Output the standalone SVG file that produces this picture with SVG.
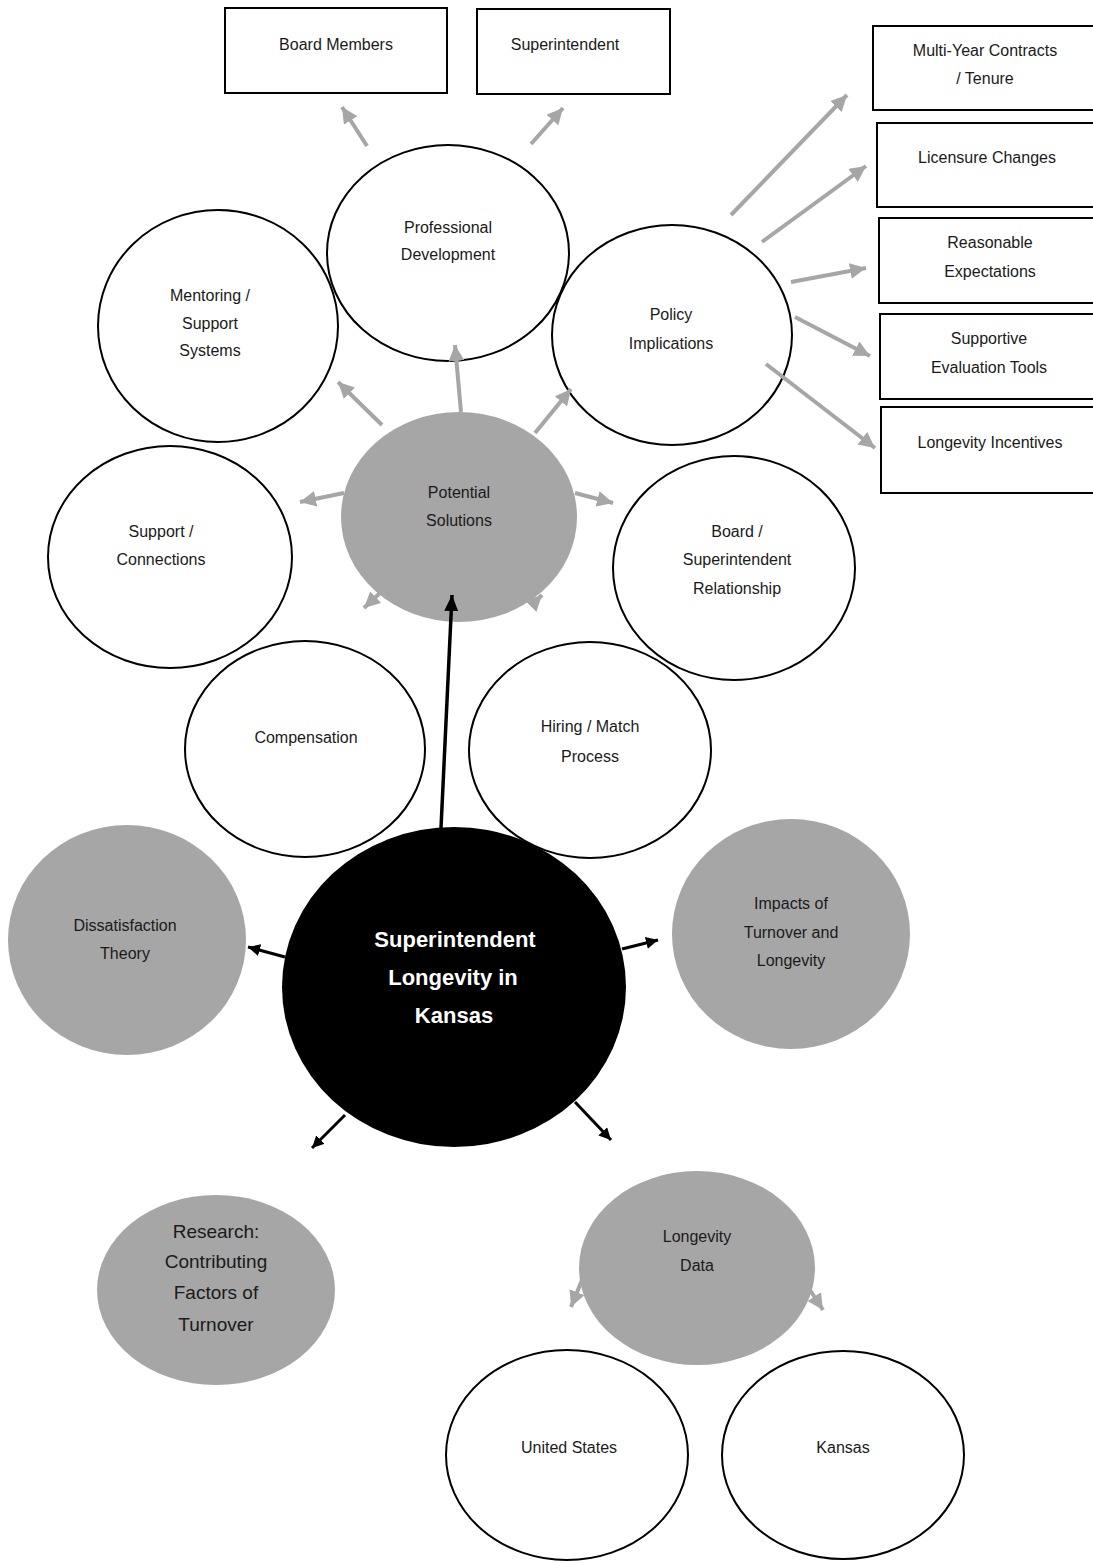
<svg xmlns="http://www.w3.org/2000/svg" width="1093" height="1563" viewBox="0 0 1093 1563">
<style>
.w{fill:#fff;stroke:#000;stroke-width:2}
.g{fill:#a6a6a6;stroke:none}
.b{fill:#000;stroke:none}
.box{fill:#fff;stroke:#000;stroke-width:2}
text{font-family:"Liberation Sans",Arial,sans-serif;font-size:16px;fill:#1a1a1a;text-anchor:middle}
.big{font-size:19px}
.ctr{font-size:22px;font-weight:bold;fill:#fff}
.ga{stroke:#a6a6a6;stroke-width:4;fill:none;marker-end:url(#mg)}
.ka{stroke:#000;stroke-width:3.5;fill:none;marker-end:url(#mk)}
.ks{stroke:#000;stroke-width:3;fill:none;marker-end:url(#mks)}
</style>
<defs>
<marker id="mg" markerUnits="userSpaceOnUse" markerWidth="18" markerHeight="16" refX="16" refY="8" orient="auto" viewBox="0 0 18 16"><path d="M0,0 L16,8 L0,16 Z" fill="#a6a6a6"/></marker>
<marker id="mk" markerUnits="userSpaceOnUse" markerWidth="18" markerHeight="16" refX="16" refY="8" orient="auto" viewBox="0 0 18 16"><path d="M0,1 L16,8 L0,15 Z" fill="#000"/></marker>
<marker id="mks" markerUnits="userSpaceOnUse" markerWidth="14" markerHeight="12" refX="12" refY="6" orient="auto" viewBox="0 0 14 12"><path d="M0,0 L12,6 L0,12 Z" fill="#000"/></marker>
</defs>
<rect width="1093" height="1563" fill="#fff"/>

<g id="box-board-members"><rect class="box" x="225" y="8" width="222" height="85"/><text x="336" y="50">Board  Members</text></g>
<g id="box-superintendent"><rect class="box" x="477" y="9" width="193" height="85"/><text x="565" y="50">Superintendent</text></g>
<g id="box-multi-year"><rect class="box" x="873" y="26" width="230" height="84"/><text x="985" y="56">Multi-Year Contracts</text><text x="985" y="84">/ Tenure</text></g>
<g id="box-licensure"><rect class="box" x="877" y="123" width="226" height="84"/><text x="987" y="163">Licensure  Changes</text></g>
<g id="box-reasonable"><rect class="box" x="879" y="218" width="224" height="85"/><text x="990" y="248">Reasonable</text><text x="990" y="277">Expectations</text></g>
<g id="box-supportive"><rect class="box" x="880" y="314" width="223" height="85"/><text x="989" y="344">Supportive</text><text x="989" y="373">Evaluation Tools</text></g>
<g id="box-incentives"><rect class="box" x="881" y="407" width="222" height="86"/><text x="990" y="448">Longevity Incentives</text></g>

<g id="node-professional-development"><ellipse class="w" cx="448" cy="253" rx="121" ry="108"/><text x="448" y="233">Professional</text><text x="448" y="260">Development</text></g>
<g id="node-mentoring"><ellipse class="w" cx="218" cy="326" rx="120" ry="116"/><text x="210" y="301">Mentoring /</text><text x="210" y="329">Support</text><text x="210" y="356">Systems</text></g>
<g id="node-policy"><ellipse class="w" cx="672" cy="335" rx="120" ry="110"/><text x="671" y="320">Policy</text><text x="671" y="349">Implications</text></g>
<g id="node-support-connections"><ellipse class="w" cx="170" cy="557" rx="122" ry="111"/><text x="161" y="537">Support /</text><text x="161" y="565">Connections</text></g>
<g id="node-board-relationship"><ellipse class="w" cx="734" cy="568" rx="121" ry="112"/><text x="737" y="537">Board /</text><text x="737" y="565">Superintendent</text><text x="737" y="594">Relationship</text></g>
<g id="node-compensation"><ellipse class="w" cx="305" cy="749" rx="120" ry="108"/><text x="306" y="743">Compensation</text></g>
<g id="node-hiring"><ellipse class="w" cx="590" cy="750" rx="121" ry="108"/><text x="590" y="732">Hiring / Match</text><text x="590" y="762">Process</text></g>
<g id="node-potential-solutions"><ellipse class="g" cx="459" cy="517" rx="118" ry="105"/><text x="459" y="498">Potential</text><text x="459" y="526">Solutions</text></g>

<g id="node-central"><ellipse class="b" cx="454" cy="987" rx="172" ry="160"/><text class="ctr" x="455" y="947">Superintendent</text><text class="ctr" x="453" y="985">Longevity in</text><text class="ctr" x="454" y="1023">Kansas</text></g>
<g id="node-dissatisfaction"><ellipse class="g" cx="127" cy="940" rx="119" ry="115"/><text x="125" y="931">Dissatisfaction</text><text x="125" y="959">Theory</text></g>
<g id="node-impacts"><ellipse class="g" cx="791" cy="934" rx="119" ry="115"/><text x="791" y="909">Impacts of</text><text x="791" y="938">Turnover and</text><text x="791" y="966">Longevity</text></g>
<g id="node-research"><ellipse class="g" cx="216" cy="1290" rx="119" ry="95"/><text class="big" x="216" y="1238">Research:</text><text class="big" x="216" y="1268">Contributing</text><text class="big" x="216" y="1299">Factors of</text><text class="big" x="216" y="1331">Turnover</text></g>
<g id="node-longevity-data"><ellipse class="g" cx="697" cy="1268" rx="118" ry="97"/><text x="697" y="1242">Longevity</text><text x="697" y="1271">Data</text></g>
<g id="node-united-states"><ellipse class="w" cx="567" cy="1455" rx="121" ry="105"/><text x="569" y="1453">United  States</text></g>
<g id="node-kansas"><ellipse class="w" cx="843" cy="1455" rx="121" ry="104"/><text x="843" y="1453">Kansas</text></g>

<g id="connectors">
<line class="ga" x1="367" y1="146" x2="342" y2="107"/>
<line class="ga" x1="531" y1="144" x2="563" y2="108"/>
<line class="ga" x1="731" y1="215" x2="847" y2="95"/>
<line class="ga" x1="762" y1="242" x2="866" y2="166"/>
<line class="ga" x1="791" y1="282" x2="866" y2="268"/>
<line class="ga" x1="795" y1="317" x2="870" y2="356"/>
<line class="ga" x1="766" y1="364" x2="875" y2="448"/>
<line class="ga" x1="382" y1="425" x2="338" y2="382"/>
<line class="ga" x1="461" y1="412" x2="455" y2="345"/>
<line class="ga" x1="535" y1="433" x2="571" y2="389"/>
<line class="ga" x1="344" y1="493" x2="300" y2="502"/>
<line class="ga" x1="575" y1="493" x2="613" y2="503"/>
<line class="ga" x1="380" y1="593" x2="364" y2="608"/>
<line class="ga" x1="532" y1="605" x2="542" y2="595"/>
<line class="ga" x1="582" y1="1280" x2="571" y2="1307"/>
<line class="ga" x1="810" y1="1290" x2="823" y2="1310"/>
<line class="ka" x1="441" y1="828" x2="452" y2="595"/>
<line class="ks" x1="285" y1="957" x2="248" y2="947"/>
<line class="ks" x1="622" y1="949" x2="658" y2="940"/>
<line class="ks" x1="345" y1="1115" x2="312" y2="1148"/>
<line class="ks" x1="575" y1="1102" x2="611" y2="1140"/>
</g>
</svg>
